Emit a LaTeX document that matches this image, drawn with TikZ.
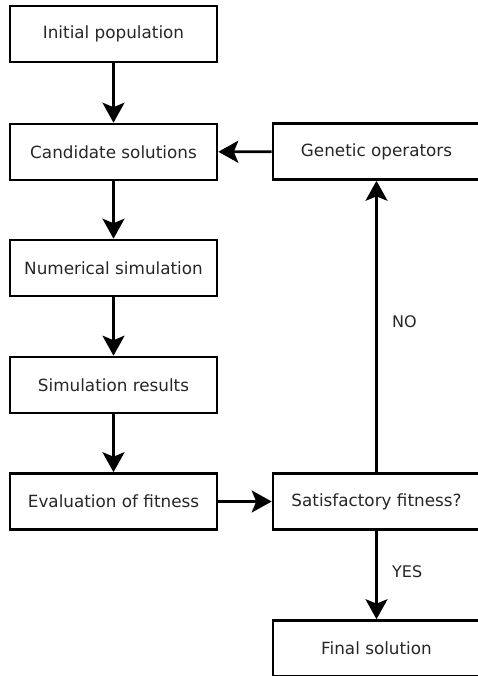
\documentclass[tikz,border=0pt]{standalone}
\usepackage{fontspec}
\setmainfont{DejaVu Sans}
\usetikzlibrary{arrows.meta}
\begin{document}
\begin{tikzpicture}[x=1pt,y=-1pt,
  box/.style={draw, line width=2.6pt, minimum width=207pt, minimum height=56pt, inner sep=0pt,
    font=\fontsize{16.8}{20}\selectfont, text=black!85},
  link/.style={line width=2.6pt, -{Stealth[length=20pt,width=22pt,inset=4.5pt]}},
  lab/.style={font=\fontsize{16}{19}\selectfont, anchor=west, inner sep=0pt, text=black!85}]
\useasboundingbox (0,0) rectangle (478,676);
\node[box] (init) at (113.5,34) {Initial population};
\node[box] (cand) at (113.5,152) {Candidate solutions};
\node[box] (num) at (113.5,268) {Numerical simulation};
\node[box] (res) at (113.5,385) {Simulation results};
\node[box] (eval) at (113.5,501.5) {Evaluation of fitness};
\node[box] (gen) at (376.5,151.5) {Genetic operators};
\node[box] (sat) at (376.5,501.5) {Satisfactory fitness?};
\node[box] (fin) at (376.5,648.5) {Final solution};
\draw[link] (init) -- (cand);
\draw[link] (cand) -- (num);
\draw[link] (num) -- (res);
\draw[link] (res) -- (eval);
\draw[link] (eval) -- (sat);
\draw[link] (sat) -- (gen);
\draw[link] (gen) -- (cand);
\draw[link] (sat) -- (fin);
\node[lab] (no) at (392,322) {NO};
\node[lab] (yes) at (392,572) {YES};
\end{tikzpicture}
\end{document}
